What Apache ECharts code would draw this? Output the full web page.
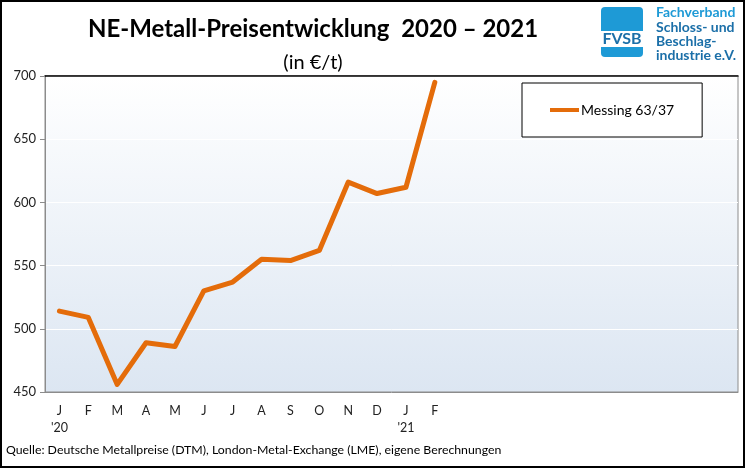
<!DOCTYPE html>
<html>
<head>
<meta charset="utf-8">
<script src="https://cdn.jsdelivr.net/npm/echarts@6/dist/echarts.min.js"></script>
<style>
  html, body { margin: 0; padding: 0; background: #fff; }
  #chart { width: 745px; height: 468px; }
</style>
</head>
<body>
<div id="chart"></div>
<script>
// Monate Jan 2020 - Dez 2021, Werte nur bis Feb 2021
var months = ["J\n'20", "F", "M", "A", "M", "J", "J", "A", "S", "O", "N", "D",
  "J\n'21", "F", "", "", "", "", "", "", "", "", "", ""];
var messing = [514, 509, 456, 489, 486, 530, 537, 555, 554, 562, 616, 607, 612, 695];
var yTicks = { min: 450, max: 700, step: 50 };

var font = "Lato, 'Noto Sans', sans-serif";
var chart = echarts.init(document.getElementById("chart"));

var option = {
  backgroundColor: "#fff",
  animation: false,
  title: [
    {
      text: "NE-Metall-Preisentwicklung  2020 – 2021",
      left: 308, top: 12, textAlign: "center",
      textStyle: { fontFamily: font, fontSize: 24, fontWeight: "bold", color: "#000" }
    },
    {
      text: "(in €/t)",
      left: 308, top: 48, textAlign: "center",
      textStyle: { fontFamily: font, fontSize: 20, fontWeight: "normal", color: "#000" }
    }
  ],
  legend: {
    left: 522, top: 83,
    padding: [20, 28, 20, 28],
    backgroundColor: "#fff",
    borderColor: "#000",
    borderWidth: 1,
    icon: "rect",
    itemWidth: 29, itemHeight: 4, itemGap: 0,
    textStyle: { fontFamily: font, fontSize: 14, color: "#000", padding: [0, 0, 0, -3] },
    data: ["Messing 63/37"]
  },
  grid: {
    left: 45, top: 76, right: 7, bottom: 76,
    show: true,
    borderWidth: 1,
    borderColor: "#8c8c8c",
    backgroundColor: new echarts.graphic.LinearGradient(0, 0, 0, 1, [
      { offset: 0, color: "#ffffff" },
      { offset: 1, color: "#dce6f2" }
    ])
  },
  xAxis: [
    {
      type: "category",
      data: months,
      boundaryGap: true,
      axisLine: { lineStyle: { color: "#8c8c8c" } },
      axisTick: {
        length: 5,
        lineStyle: { color: "#8c8c8c" },
        interval: function (i) { return i % 12 === 0; }
      },
      axisLabel: {
        interval: 0,
        fontFamily: font, fontSize: 12.5, color: "#222",
        lineHeight: 17, margin: 10
      }
    },
    {
      type: "category",
      position: "top",
      data: months,
      axisLine: { lineStyle: { color: "#000", width: 1.5 } },
      axisTick: { show: false },
      axisLabel: { show: false }
    }
  ],
  yAxis: {
    type: "value",
    min: yTicks.min, max: yTicks.max, interval: yTicks.step,
    axisLine: { show: true, lineStyle: { color: "#8c8c8c" } },
    axisTick: { show: true, length: 5, lineStyle: { color: "#8c8c8c" } },
    axisLabel: { fontFamily: font, fontSize: 13, color: "#222", margin: 9 },
    splitLine: { lineStyle: { color: "#ffffff", width: 1 } }
  },
  series: [
    {
      name: "Messing 63/37",
      type: "line",
      data: messing,
      symbol: "none",
      lineStyle: { color: "#e46c0a", width: 5, cap: "round", join: "round" },
      itemStyle: { color: "#e46c0a" }
    }
  ],
  graphic: [
    {
      type: "rect",
      shape: { x: 1, y: 1, width: 743, height: 466 },
      style: { fill: "none", stroke: "#000", lineWidth: 2 },
      silent: true
    },
    {
      type: "text",
      left: 6, top: 444,
      style: {
        text: "Quelle: Deutsche Metallpreise (DTM), London-Metal-Exchange (LME), eigene Berechnungen",
        font: "12.3px " + font, fill: "#000"
      }
    },
    // Logo FVSB
    {
      type: "rect",
      shape: { x: 601, y: 7, width: 42, height: 50, r: 4 },
      style: { fill: "#1e9ad6" }
    },
    {
      type: "rect",
      shape: { x: 601, y: 31, width: 42, height: 16 },
      style: { fill: "#fff" }
    },
    {
      type: "text",
      x: 622, y: 39,
      style: {
        text: "FVSB", font: "bold 16px " + font, fill: "#1b6fa8",
        textAlign: "center", textVerticalAlign: "middle"
      }
    },
    {
      type: "text",
      x: 656, y: 5,
      style: {
        text: "Fachverband", font: "bold 14px " + font, fill: "#1e9ad6"
      }
    },
    {
      type: "text",
      x: 656, y: 20,
      style: {
        text: "Schloss- und\nBeschlag-\nindustrie e.V.",
        font: "bold 14px " + font, fill: "#1b6fa8", lineHeight: 14
      }
    }
  ]
};

chart.setOption(option);
</script>
</body>
</html>
